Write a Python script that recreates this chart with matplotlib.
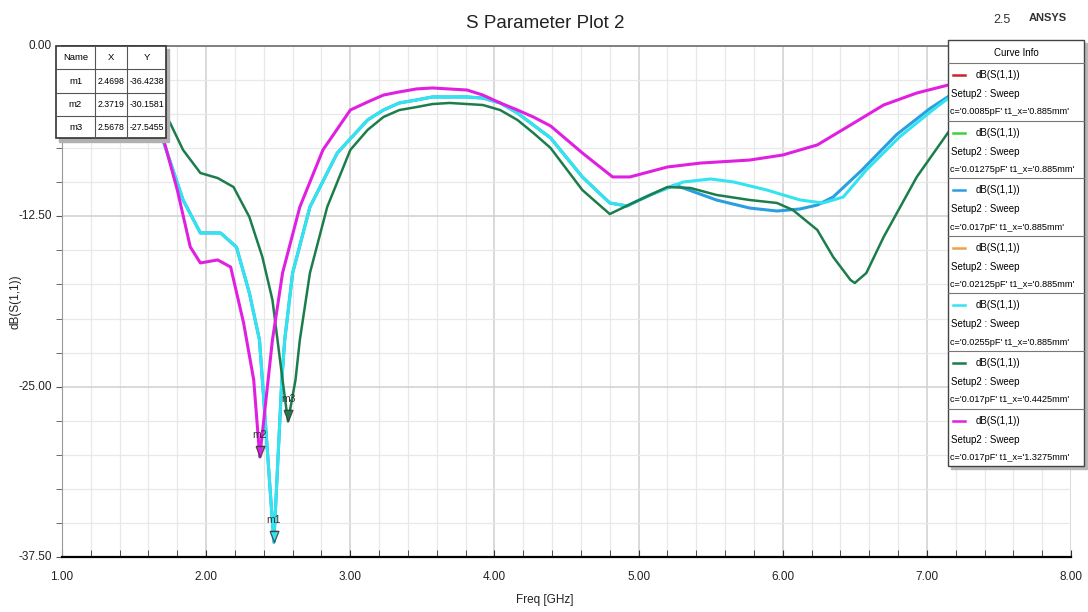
import numpy as np
import matplotlib
matplotlib.use('Agg')
import matplotlib.pyplot as plt
from matplotlib import font_manager
from matplotlib.patches import Rectangle
from matplotlib.ticker import MultipleLocator

# pick a narrow font if there is one
names = {f.name for f in font_manager.fontManager.ttflist}
if 'Liberation Sans Narrow' in names:
    FONT = 'Liberation Sans Narrow'
else:
    FONT = 'Liberation Sans'
plt.rcParams['font.family'] = [FONT, 'DejaVu Sans']

# curves (Freq GHz, dB)
mag_f = [1.00, 1.30, 1.55, 1.70, 1.80, 1.89, 1.96, 2.08, 2.17, 2.26, 2.33, 2.372, 2.43, 2.46, 2.53,
         2.65, 2.81, 3.00, 3.12, 3.23, 3.34, 3.46, 3.57, 3.81, 3.92, 4.04, 4.16, 4.27, 4.39, 4.61,
         4.82, 4.94, 5.20, 5.43, 5.77, 6.00, 6.24, 6.47, 6.70, 6.93, 7.15, 7.50, 8.00]
mag_db = [-1.0, -2.0, -3.8, -6.68, -10.57, -14.75, -15.92, -15.70, -16.22, -20.33, -24.5, -30.16, -24.5,
          -21.57, -16.66, -11.81, -7.63, -4.70, -4.11, -3.60, -3.37, -3.15, -3.08, -3.23, -3.60,
          -4.18, -4.70, -5.21, -5.87, -7.85, -9.61, -9.61, -8.88, -8.59, -8.37, -8.00, -7.26, -5.80,
          -4.33, -3.45, -2.86, -2.2, -1.5]

cyan_f = [1.00, 1.30, 1.55, 1.70, 1.84, 1.96, 2.10, 2.21, 2.30, 2.37, 2.39, 2.4698, 2.525, 2.545, 2.60,
          2.72, 2.91, 3.12, 3.23, 3.34, 3.46, 3.57, 3.81, 3.92, 4.04, 4.16, 4.39, 4.61, 4.80, 4.92,
          5.08, 5.31, 5.50, 5.66, 5.89, 6.12, 6.28, 6.42, 6.58, 6.81, 7.04, 7.15, 7.50, 8.00]
cyan_db = [-1.2, -2.3, -4.0, -6.90, -11.30, -13.72, -13.72, -14.75, -18.13, -21.57, -24.5, -36.42, -24.5,
           -21.57, -16.66, -11.81, -7.85, -5.43, -4.70, -4.18, -3.96, -3.74, -3.74, -3.82, -4.18,
           -4.92, -6.75, -9.61, -11.52, -11.74, -10.93, -9.98, -9.76, -9.98, -10.57, -11.30, -11.52,
           -11.08, -9.10, -6.68, -4.70, -3.82, -2.8, -1.8]

blue_f = [1.00, 1.30, 1.55, 1.70, 1.84, 1.96, 2.10, 2.21, 2.30, 2.37, 2.39, 2.4698, 2.525, 2.545, 2.60,
          2.72, 2.91, 3.12, 3.23, 3.34, 3.46, 3.57, 3.81, 3.92, 4.04, 4.16, 4.39, 4.61, 4.80, 4.92,
          5.08, 5.25, 5.31, 5.54, 5.77, 5.96, 6.12, 6.24, 6.35, 6.55, 6.79, 7.02, 7.15, 7.50, 8.00]
blue_db = [-1.2, -2.3, -4.0, -6.90, -11.30, -13.72, -13.72, -14.75, -18.13, -21.57, -24.5, -36.42, -24.5,
           -21.57, -16.66, -11.81, -7.85, -5.43, -4.70, -4.18, -3.96, -3.74, -3.74, -3.82, -4.18,
           -4.92, -6.75, -9.61, -11.52, -11.74, -10.93, -10.2, -10.42, -11.30, -11.89, -12.11, -11.96,
           -11.67, -11.08, -9.10, -6.5, -4.6, -3.7, -2.7, -1.8]

green_f = [1.00, 1.30, 1.55, 1.71, 1.75, 1.84, 1.96, 2.08, 2.19, 2.30, 2.39, 2.46, 2.53, 2.5678, 2.62,
           2.65, 2.72, 2.84, 3.00, 3.12, 3.23, 3.34, 3.46, 3.57, 3.69, 3.92, 4.04, 4.16, 4.27, 4.39,
           4.61, 4.80, 4.96, 5.20, 5.36, 5.54, 5.77, 5.96, 6.07, 6.24, 6.35, 6.47, 6.50, 6.58, 6.70,
           6.93, 7.15, 7.50, 8.00]
green_db = [-0.8, -1.5, -2.8, -4.92, -5.65, -7.63, -9.32, -9.69, -10.35, -12.55, -15.48, -18.64, -24.5,
            -27.55, -24.5, -21.57, -16.66, -11.81, -7.63, -6.16, -5.21, -4.70, -4.48, -4.26, -4.18,
            -4.33, -4.70, -5.43, -6.38, -7.49, -10.57, -12.33, -11.52, -10.35, -10.42, -10.93, -11.30,
            -11.52, -12.03, -13.50, -15.48, -17.17, -17.39, -16.66, -14.02, -9.61, -6.31, -3.8, -2.2]

# markers m1..m3
mk_names = ['m1', 'm2', 'm3']
mk_x = [2.4698, 2.3719, 2.5678]
mk_y = [-36.4238, -30.1581, -27.5455]
mk_colors = ['#33e3f0', '#e020e0', '#1c7d4c']

# legend entries
leg_colors = ['#c8262e', '#3bd23b', '#2a9fe0', '#f0a04a', '#33e3f0', '#1c7d4c', '#e020e0']
leg_c = ['0.0085pF', '0.01275pF', '0.017pF', '0.02125pF', '0.0255pF', '0.017pF', '0.017pF']
leg_t1 = ['0.885mm', '0.885mm', '0.885mm', '0.885mm', '0.885mm', '0.4425mm', '1.3275mm']

W, H = 1088, 612
fig = plt.figure(figsize=(W / 100, H / 100), dpi=100)
ax = fig.add_axes([62 / W, 1 - 557 / H, (1071 - 62) / W, (557 - 46) / H])

ax.plot(blue_f, blue_db, color='#2a9fe0', lw=2.2, zorder=3)
ax.plot(cyan_f, cyan_db, color='#33e3f0', lw=2.2, zorder=4)
ax.plot(green_f, green_db, color='#1c7d4c', lw=1.8, zorder=5)
ax.plot(mag_f, mag_db, color='#e020e0', lw=2.2, zorder=6)

# inverted triangle with its tip on the point, plus a bar on top
tri = [(-0.4, 1.0), (0.4, 1.0), (0.0, 0.0), (-0.4, 1.0)]
bar = [(-0.45, 1.12), (0.45, 1.12)]
for n, x, y, c in zip(mk_names, mk_x, mk_y, mk_colors):
    ax.plot([x], [y], marker=tri, ms=16, mfc=c, mec='#404040', mew=0.9, alpha=0.9, zorder=8)
    ax.plot([x], [y], marker=bar, ms=16, mec='#404040', mew=0.9, zorder=8)
    ax.text(x, y + 1.25, n, fontsize=7.5, color='#303030', ha='center', va='bottom', zorder=8)

ax.set_xlim(1, 8)
ax.set_ylim(-37.5, 0)
ax.xaxis.set_major_locator(MultipleLocator(1))
ax.xaxis.set_minor_locator(MultipleLocator(0.2))
ax.yaxis.set_major_locator(MultipleLocator(12.5))
ax.yaxis.set_minor_locator(MultipleLocator(2.5))
ax.set_xticklabels([])
ax.set_yticklabels([])
ax.grid(which='minor', color='#e8e8e8', lw=0.9)
ax.grid(which='major', color='#cfcfcf', lw=1.1)
ax.set_axisbelow(True)
ax.tick_params(axis='x', which='both', direction='in', length=5, color='#333333', top=False)
ax.tick_params(axis='y', which='both', direction='out', length=4, color='#555555', right=False)
ax.spines['bottom'].set_color('black')
ax.spines['bottom'].set_linewidth(1.6)
ax.spines['top'].set_color('#777777')
ax.spines['top'].set_linewidth(1.3)
ax.spines['left'].set_color('#999999')
ax.spines['right'].set_visible(False)

for v in range(1, 9):
    ax.text(v, -37.5 - 1.45, f'{v:.2f}', fontsize=8.5, ha='center', va='center', color='#222222')
for v in [0, -12.5, -25, -37.5]:
    ax.text(1 - 0.07, v, f'{v:.2f}', fontsize=8.5, ha='right', va='center', color='#222222')
fig.text(545 / W, 1 - 600 / H, 'Freq [GHz]', fontsize=8.5, ha='center', va='center', color='#222222')
fig.text(16 / W, 1 - 302 / H, 'dB(S(1,1))', fontsize=8.5, rotation=90, ha='center', va='center',
         color='#222222')

fig.text(545 / W, 1 - 24 / H, 'S Parameter Plot 2', fontsize=13.5, ha='center', va='center',
         color='#222222')
fig.text(1002 / W, 1 - 20 / H, '2.5', fontsize=9, ha='center', va='center', color='#333333')
fig.text(1048 / W, 1 - 18 / H, 'ANSYS', fontsize=8, fontweight='bold', ha='center', va='center',
         color='#333333')

# marker table (pixel coordinates)
tax = fig.add_axes([50 / W, 1 - 145 / H, 125 / W, 105 / H], zorder=10)
tax.set_xlim(50, 175)
tax.set_ylim(145, 40)
tax.axis('off')
tax.add_patch(Rectangle((59, 49), 110, 93, color='#b0b0b0', zorder=1))
tax.add_patch(Rectangle((56, 46), 110, 92, facecolor='white', edgecolor='#333333', lw=1.2, zorder=2))
cols = [56, 95, 127, 166]
rows = [46, 69, 93, 116, 138]
for cx in cols[1:-1]:
    tax.plot([cx, cx], [46, 138], color='#555555', lw=0.8, zorder=3)
for ry in rows[1:-1]:
    tax.plot([56, 166], [ry, ry], color='#555555', lw=0.8, zorder=3)
head = ['Name', 'X', 'Y']
for i, h in enumerate(head):
    tax.text((cols[i] + cols[i + 1]) / 2, 58, h, fontsize=6.8, ha='center', va='center', zorder=4)
for r, (n, x, y) in enumerate(zip(mk_names, mk_x, mk_y)):
    yc = (rows[r + 1] + rows[r + 2]) / 2
    tax.text((cols[0] + cols[1]) / 2, yc, n, fontsize=6.8, ha='center', va='center', zorder=4)
    tax.text((cols[1] + cols[2]) / 2, yc, f'{x:.4f}', fontsize=6.3, ha='center', va='center', zorder=4)
    tax.text((cols[2] + cols[3]) / 2, yc, f'{y:.4f}', fontsize=6.3, ha='center', va='center', zorder=4)

# curve info legend (pixel coordinates)
lax = fig.add_axes([944 / W, 1 - 472 / H, 144 / W, 436 / H], zorder=10)
lax.set_xlim(944, 1088)
lax.set_ylim(472, 36)
lax.axis('off')
lax.add_patch(Rectangle((951, 43), 136, 426, color='#b8b8b8', zorder=1))
lax.add_patch(Rectangle((948, 40), 136, 426, facecolor='white', edgecolor='#444444', lw=1.0, zorder=2))
lax.text(1016, 53, 'Curve Info', fontsize=7, ha='center', va='center', zorder=4)
step = 57.6
for k in range(7):
    s = 63 + k * step
    lax.plot([948, 1084], [s, s], color='#777777', lw=0.8, zorder=3)
    lax.plot([953, 965], [s + 12, s + 12], color=leg_colors[k], lw=1.8, zorder=4)
    lax.text(976, s + 12, 'dB(S(1,1))', fontsize=7, ha='left', va='center', zorder=4)
    lax.text(951, s + 31, 'Setup2 : Sweep', fontsize=7, ha='left', va='center', zorder=4)
    lax.text(950, s + 49, f"c='{leg_c[k]}' t1_x='{leg_t1[k]}'", fontsize=6.6, ha='left', va='center',
             zorder=4)

plt.savefig('out.png', dpi=100)
